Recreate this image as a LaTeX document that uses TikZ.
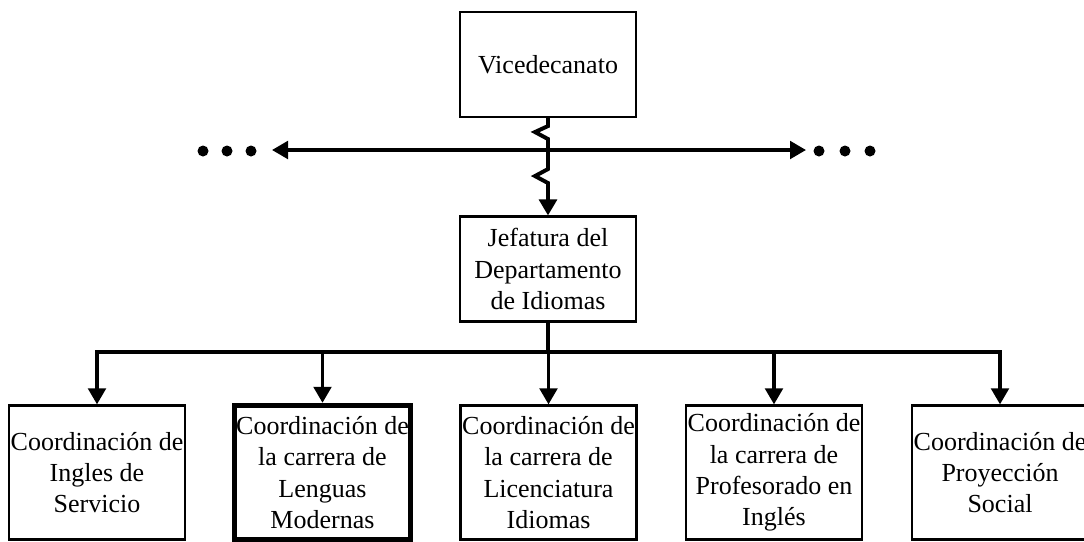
\documentclass[tikz,border=0pt]{standalone}
\usepackage{fontspec}
\setmainfont{Liberation Serif}
\usetikzlibrary{arrows.meta}

\begin{document}
\begin{tikzpicture}[x=0.025cm,y=-0.025cm,
  box/.style={draw,line width=1.6pt,minimum width=4.4cm,minimum height=2.62cm,
    align=center,inner sep=0pt,font=\fontsize{18.5}{22.3}\selectfont},
  unitbox/.style={box,minimum height=3.35cm},
  conn/.style={line width=2.4pt},
  arr/.style={conn,-{Triangle[length=0.4cm,width=0.44cm]}}]
  \clip (0,0) rectangle (1084,541);
  \node[box] (vice) at (548,64.5) {Vicedecanato};
  \node[box] (jef) at (548,269) {Jefatura del\\Departamento\\de Idiomas};
  \node[unitbox] (c1) at (97,472.5) {Coordinación de\\Ingles de\\Servicio};
  \node[unitbox,line width=3.8pt] (c2) at (322.5,472.5) {Coordinación de\\la carrera de\\Lenguas\\Modernas};
  \node[unitbox] (c3) at (548.5,472.5) {Coordinación de\\la carrera de\\Licenciatura\\Idiomas};
  \node[unitbox] (c4) at (774,472.5) {Coordinación de\\la carrera de\\Profesorado en\\Inglés};
  \node[unitbox] (c5) at (1000,472.5) {Coordinación de\\Proyección\\Social};
  % linea horizontal con puntos
  \coordinate (mid) at (548,150);
  \coordinate (west) at (272,150);
  \coordinate (east) at (806,150);
  \draw[arr] (mid) -- (west);
  \draw[arr] (mid) -- (east);
  \foreach \x in {203,227,251,819,845,870}
    \fill (\x,151) circle (5.5);
  % vicedecanato a jefatura
  \draw[arr,line width=2.8pt] (vice.south) -- ++(0,8) -- ++(-13,6) -- ++(13,7) -- ++(0,30)
    -- ++(-13,7) -- ++(13,7) -- (jef.north);
  % coordinaciones
  \coordinate (bus) at (548,352);
  \draw[conn] (jef.south) -- (bus);
  \draw[conn,line cap=rect] (c1.north |- bus) -- (c5.north |- bus);
  \foreach \i in {1,...,5}
    \draw[arr] (c\i.north |- bus) -- (c\i.north);
\end{tikzpicture}
\end{document}
